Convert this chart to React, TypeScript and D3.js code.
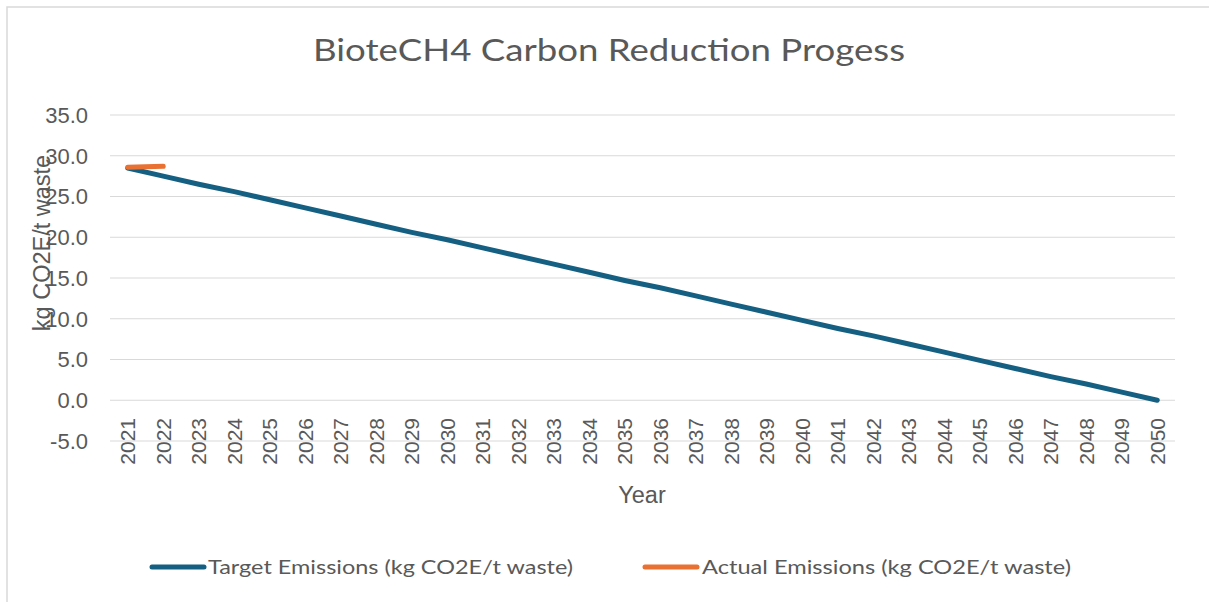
import React from 'react';
import * as d3 from 'd3';

const years: string[] = [
  '2021', '2022', '2023', '2024', '2025', '2026', '2027', '2028', '2029', '2030',
  '2031', '2032', '2033', '2034', '2035', '2036', '2037', '2038', '2039', '2040',
  '2041', '2042', '2043', '2044', '2045', '2046', '2047', '2048', '2049', '2050',
];

const targetEmissions: number[] = [
  28.5, 27.5, 26.5, 25.6, 24.6, 23.6, 22.6, 21.6, 20.6, 19.7,
  18.7, 17.7, 16.7, 15.7, 14.7, 13.8, 12.8, 11.8, 10.8, 9.8,
  8.8, 7.9, 6.9, 5.9, 4.9, 3.9, 2.9, 2.0, 1.0, 0.0,
];

const actualEmissions: number[] = [28.6, 28.7];

const yTicks: number[] = [-5, 0, 5, 10, 15, 20, 25, 30, 35];

const W = 1209;
const H = 602;
const margin = { top: 115, right: 34, bottom: 161, left: 110 };

const TEXT = '#595959';
const GRID = '#d9d9d9';
const BLUE = '#156082';
const ORANGE = '#e97132';
const tickFont = '"Liberation Sans", Arial, sans-serif';
const titleFont = 'Lato, "Open Sans", sans-serif';

export default function App() {
  const x = d3
    .scaleBand<string>()
    .domain(years)
    .range([margin.left, W - margin.right]);

  const y = d3
    .scaleLinear()
    .domain([-5, 35])
    .range([H - margin.bottom, margin.top]);

  const cx = (yr: string) => x(yr)! + x.bandwidth() / 2;

  const line = d3
    .line<number>()
    .x((_, i) => cx(years[i]))
    .y((d) => y(d));

  return (
    <svg
      width={W}
      height={H}
      style={{ position: 'fixed', left: 0, top: 0, background: '#fff' }}
    >
      {/* chart frame */}
      <rect x={7} y={7} width={W + 10} height={H + 10} fill="#fff" stroke={GRID} strokeWidth={1.5} />

      <text
        x={609}
        y={61}
        textAnchor="middle"
        fill={TEXT}
        fontFamily={titleFont}
        fontSize={31}
        textLength={592}
        lengthAdjust="spacingAndGlyphs"
      >
        BioteCH4 Carbon Reduction Progess
      </text>

      {/* gridlines + y tick labels */}
      {yTicks.map((t) => (
        <g key={t}>
          <line x1={margin.left} x2={W - margin.right} y1={y(t)} y2={y(t)} stroke={GRID} strokeWidth={1.2} />
          <text
            x={88}
            y={y(t)}
            dy="0.36em"
            textAnchor="end"
            fill={TEXT}
            fontFamily={tickFont}
            fontSize={22}
          >
            {t.toFixed(1)}
          </text>
        </g>
      ))}

      {/* x tick labels */}
      {years.map((yr) => (
        <text
          key={yr}
          transform={`translate(${cx(yr) + 7.5},418) rotate(-90)`}
          textAnchor="end"
          fill={TEXT}
          fontFamily={tickFont}
          fontSize={21}
        >
          {yr}
        </text>
      ))}

      {/* axis titles */}
      <text
        transform="translate(50,243) rotate(-90)"
        textAnchor="middle"
        fill={TEXT}
        fontFamily={tickFont}
        fontSize={23.5}
      >
        kg CO2E/t waste
      </text>
      <text x={642} y={503} textAnchor="middle" fill={TEXT} fontFamily={tickFont} fontSize={23.5}>
        Year
      </text>

      {/* series */}
      <path d={line(targetEmissions) ?? ''} fill="none" stroke={BLUE} strokeWidth={5} strokeLinecap="round" />
      <path d={line(actualEmissions) ?? ''} fill="none" stroke={ORANGE} strokeWidth={5} strokeLinecap="round" />

      {/* legend */}
      <line x1={152} x2={204} y1={567} y2={567} stroke={BLUE} strokeWidth={5} strokeLinecap="round" />
      <text
        x={208}
        y={574}
        fill={TEXT}
        fontFamily={titleFont}
        fontSize={20}
        textLength={365}
        lengthAdjust="spacingAndGlyphs"
      >
        Target Emissions (kg CO2E/t waste)
      </text>
      <line x1={645} x2={697} y1={567} y2={567} stroke={ORANGE} strokeWidth={5} strokeLinecap="round" />
      <text
        x={702}
        y={574}
        fill={TEXT}
        fontFamily={titleFont}
        fontSize={20}
        textLength={369}
        lengthAdjust="spacingAndGlyphs"
      >
        Actual Emissions (kg CO2E/t waste)
      </text>
    </svg>
  );
}
